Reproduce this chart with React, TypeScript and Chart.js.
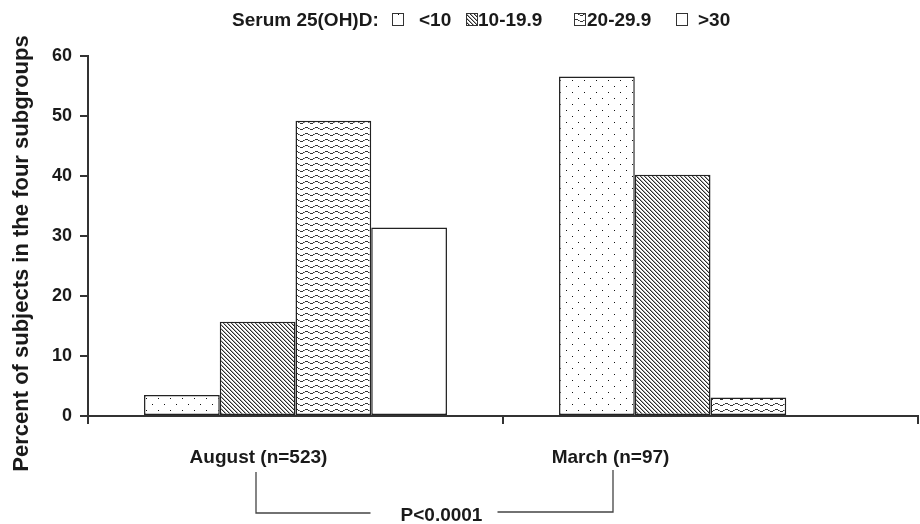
import { useEffect, useRef } from 'react';
import { Chart, registerables } from 'chart.js';

Chart.register(...registerables);

// ---- data ----
const CATEGORIES = ['August (n=523)', 'March (n=97)'];
const SERIES_LABELS = ['<10', '10-19.9', '20-29.9', '>30'];
const SERIES_LT10 = [3.5, 56.6];
const SERIES_10_19 = [15.7, 40.2];
const SERIES_20_29 = [49.2, 3.1];
const SERIES_GT30 = [31.4, 0];
const Y_MIN = 0;
const Y_MAX = 60;
const Y_STEP = 10;
const LEGEND_TITLE = 'Serum 25(OH)D:';
const Y_TITLE = 'Percent of subjects in the four subgroups';
const P_TEXT = 'P<0.0001';

// ---- styling / layout ----
const FONT = '"Liberation Sans", Arial, sans-serif';
const TEXT = '#1a1a1a';
const LINE = '#333333';
const LABEL_SHIFT = [-37, -100];
const LEGEND_TITLE_X = 232;
const LEGEND_BOX_X = [392, 466, 574, 676];
const LEGEND_TEXT_X = [419, 478, 587, 698];

function makeTile(w: number, h: number, draw: (c: CanvasRenderingContext2D) => void) {
  const cv = document.createElement('canvas');
  cv.width = w;
  cv.height = h;
  const c = cv.getContext('2d')!;
  c.fillStyle = '#ffffff';
  c.fillRect(0, 0, w, h);
  draw(c);
  return cv;
}

function makePatterns(ctx: CanvasRenderingContext2D) {
  const dots = makeTile(12, 12, (c) => {
    c.fillStyle = '#111';
    c.fillRect(2, 2, 1, 1);
    c.fillRect(8, 8, 1, 1);
  });
  const diag = makeTile(4, 4, (c) => {
    for (let i = 0; i < 4; i++) {
      c.fillStyle = '#2a2a2a';
      c.fillRect(i, i, 1, 1);
      c.fillStyle = '#aaa';
      c.fillRect((i + 1) % 4, i, 1, 1);
    }
  });
  const wave = makeTile(10, 6, (c) => {
    const ys = [3, 3, 3, 2, 2, 1, 1, 1, 2, 2];
    for (let x = 0; x < 10; x++) {
      c.fillStyle = x === 4 || x === 9 ? '#888' : '#333';
      c.fillRect(x, ys[x], 1, 1);
    }
  });
  const white = makeTile(2, 2, () => {});
  return [
    ctx.createPattern(dots, 'repeat')!,
    ctx.createPattern(diag, 'repeat')!,
    ctx.createPattern(wave, 'repeat')!,
    ctx.createPattern(white, 'repeat')!,
  ];
}

export default function App() {
  const ref = useRef<HTMLCanvasElement>(null);

  useEffect(() => {
    const canvas = ref.current!;
    const ctx = canvas.getContext('2d')!;
    const patterns = makePatterns(ctx);
    const seriesData = [SERIES_LT10, SERIES_10_19, SERIES_20_29, SERIES_GT30];

    const overlay = {
      id: 'overlay',
      afterDraw(chart: any) {
        const c: CanvasRenderingContext2D = chart.ctx;
        const xs = chart.scales.x;
        c.save();
        c.fillStyle = TEXT;
        c.textBaseline = 'alphabetic';

        // legend
        c.font = `bold 19px ${FONT}`;
        c.textAlign = 'left';
        c.fillText(LEGEND_TITLE, LEGEND_TITLE_X, 26);
        SERIES_LABELS.forEach((lab, i) => {
          c.fillStyle = patterns[i];
          c.fillRect(LEGEND_BOX_X[i], 13, 12, 13);
          c.strokeStyle = LINE;
          c.lineWidth = 1;
          c.strokeRect(LEGEND_BOX_X[i] + 0.5, 13.5, 11, 12);
          c.fillStyle = TEXT;
          c.fillText(lab, LEGEND_TEXT_X[i], 26);
        });

        // y title
        c.save();
        c.translate(22, 253.5);
        c.rotate(-Math.PI / 2);
        c.font = `bold 22px ${FONT}`;
        c.textAlign = 'center';
        c.textBaseline = 'middle';
        c.fillText(Y_TITLE, 0, 0);
        c.restore();

        // category labels
        c.font = `bold 19px ${FONT}`;
        c.textAlign = 'center';
        const centers = CATEGORIES.map((lab, i) => xs.getPixelForValue(i) + LABEL_SHIFT[i]);
        CATEGORIES.forEach((lab, i) => c.fillText(lab, centers[i], 463));

        // bracket and p value
        const lx = centers[0] - 2.5;
        const rx = centers[1] + 2.5;
        const pcx = (lx + rx) / 2 + 7;
        c.strokeStyle = '#444';
        c.lineWidth = 1.3;
        c.beginPath();
        c.moveTo(lx, 472);
        c.lineTo(lx, 513);
        c.lineTo(pcx - 71, 513);
        c.moveTo(pcx + 56, 512);
        c.lineTo(rx, 512);
        c.lineTo(rx, 470);
        c.stroke();
        c.fillText(P_TEXT, pcx, 521);
        c.restore();
      },
    };

    const chart = new Chart(canvas, {
      type: 'bar',
      data: {
        labels: CATEGORIES,
        datasets: SERIES_LABELS.map((lab, i) => ({
          label: lab,
          data: seriesData[i],
          backgroundColor: patterns[i],
          borderColor: '#222',
          borderWidth: 1.5,
          borderSkipped: false,
          categoryPercentage: 0.73,
          barPercentage: 1.0,
        })),
      },
      options: {
        animation: false,
        responsive: false,
        devicePixelRatio: 1,
        layout: { padding: { left: 0, top: 56, right: 2, bottom: 0 } },
        plugins: {
          legend: { display: false },
          tooltip: { enabled: false },
          title: { display: false },
        },
        scales: {
          x: {
            offset: true,
            grid: {
              display: true,
              offset: true,
              drawOnChartArea: false,
              drawTicks: true,
              tickLength: 8,
              color: LINE,
              lineWidth: 2,
            },
            border: { display: true, color: LINE, width: 2 },
            ticks: { display: false },
            afterFit: (scale: any) => {
              scale.height = 108;
            },
          },
          y: {
            min: Y_MIN,
            max: Y_MAX,
            grid: {
              display: true,
              drawOnChartArea: false,
              drawTicks: true,
              tickLength: 8,
              color: LINE,
              lineWidth: 2,
            },
            border: { display: true, color: LINE, width: 2 },
            ticks: {
              stepSize: Y_STEP,
              padding: 8,
              color: TEXT,
              font: { family: FONT, size: 18, weight: 'bold' },
            },
            afterFit: (scale: any) => {
              scale.width = 88;
            },
          },
        },
      },
      plugins: [overlay],
    } as any);

    return () => chart.destroy();
  }, []);

  return (
    <div style={{ position: 'absolute', left: 0, top: 0, width: 920, height: 524 }}>
      <canvas ref={ref} width={920} height={524} style={{ display: 'block', width: 920, height: 524 }} />
    </div>
  );
}
